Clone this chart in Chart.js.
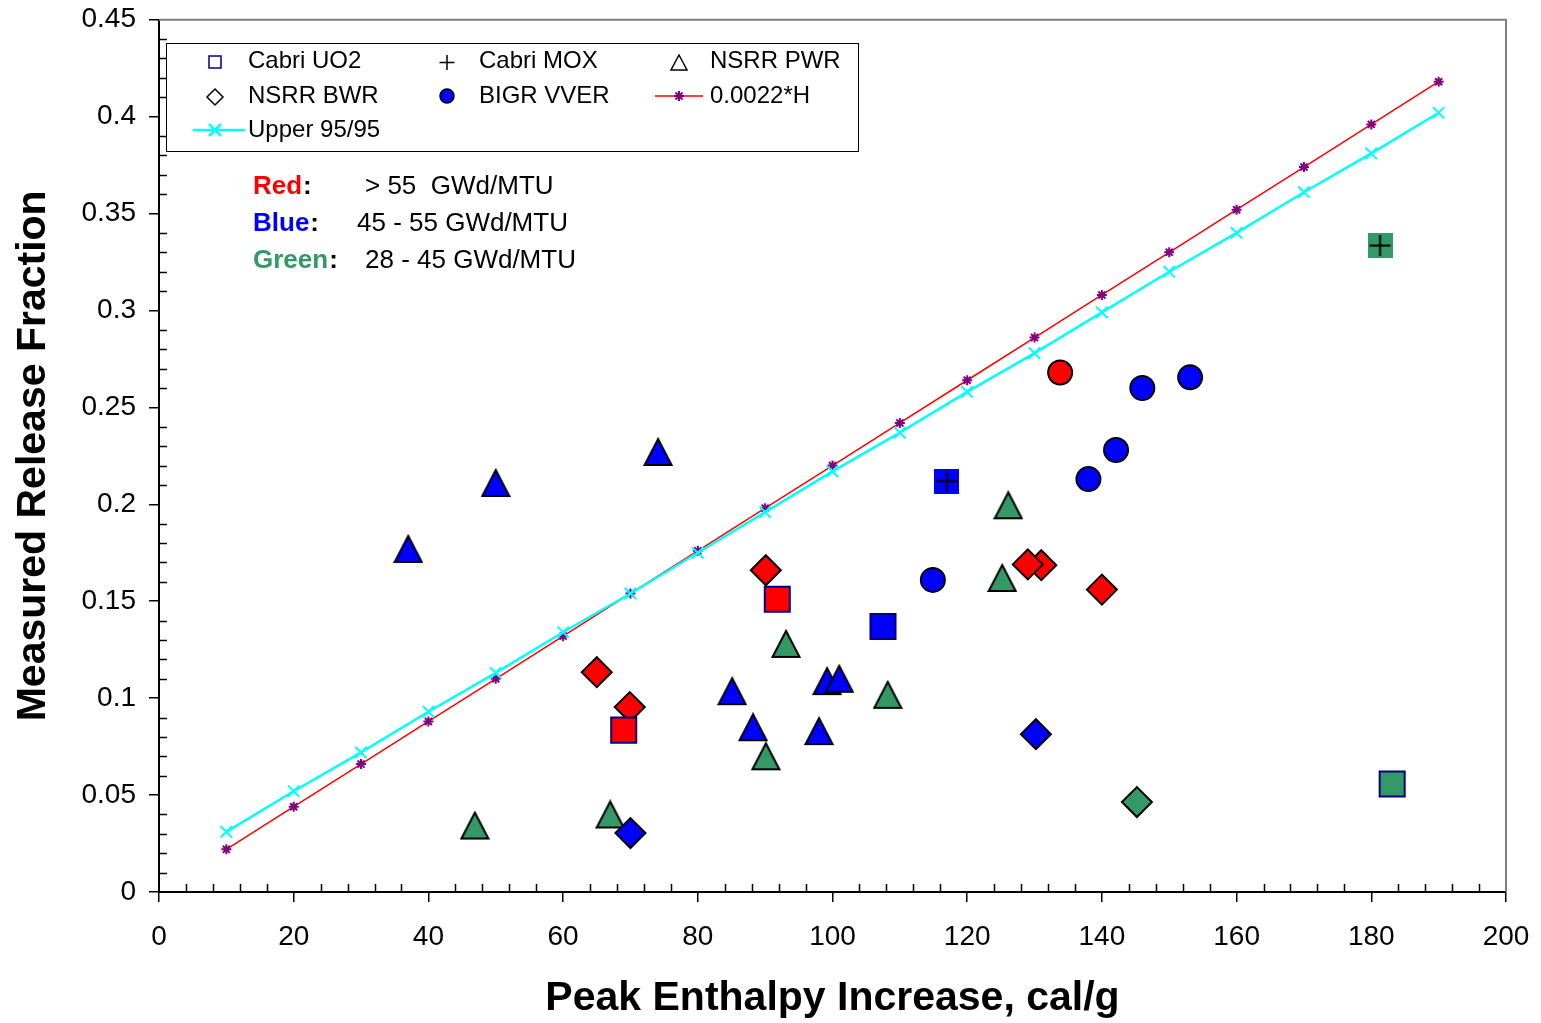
<!DOCTYPE html>
<html>
<head>
<meta charset="utf-8">
<title>Release fraction vs peak enthalpy</title>
<script src="https://cdn.jsdelivr.net/npm/chart.js@4/dist/chart.umd.min.js"></script>
<style>
    html, body { margin: 0; padding: 0; background: #fff; }
    #wrap { width: 1541px; height: 1023px; position: relative; }
</style>
</head>
<body>
<div id="wrap"><canvas id="releaseChart"></canvas></div>
<script>
// ---- data ----
const xTickLabels = ['0', '20', '40', '60', '80', '100', '120', '140', '160', '180', '200'];
const yTickLabels = ['0', '0.05', '0.1', '0.15', '0.2', '0.25', '0.3', '0.35', '0.4', '0.45'];

// burnup group colours
const groupColors = { red: '#FF0000', blue: '#0000FF', green: '#339966' };

const cabriUo2X = [69, 91.8, 107.5, 183.1];
const cabriUo2Y = [0.0835, 0.151, 0.137, 0.0557];
const cabriUo2Group = ['red', 'red', 'blue', 'green'];

const cabriMoxX = [117, 181.3];
const cabriMoxY = [0.212, 0.3335];
const cabriMoxGroup = ['blue', 'green'];

const nsrrPwrX = [37, 50, 74.1, 85.1, 99.2, 101, 88.2, 98, 93.1, 108.2, 90.1, 125.2, 126.1, 46.9, 67];
const nsrrPwrY = [0.177, 0.211, 0.227, 0.1036, 0.1088, 0.110, 0.085, 0.083, 0.128, 0.1017, 0.070, 0.162, 0.1995, 0.0343, 0.040];
const nsrrPwrGroup = ['blue', 'blue', 'blue', 'blue', 'blue', 'blue', 'blue', 'blue',
    'green', 'green', 'green', 'green', 'green', 'green', 'green'];

const nsrrBwrX = [65, 69.9, 90.1, 131, 129, 140, 70, 130.2, 145.2];
const nsrrBwrY = [0.1134, 0.0954, 0.166, 0.1686, 0.169, 0.156, 0.0304, 0.0814, 0.0464];
const nsrrBwrGroup = ['red', 'red', 'red', 'red', 'red', 'red', 'blue', 'blue', 'green'];

const bigrVverX = [133.8, 146, 153.1, 142.1, 138, 114.9];
const bigrVverY = [0.268, 0.26, 0.2655, 0.228, 0.213, 0.161];
const bigrVverGroup = ['red', 'blue', 'blue', 'blue', 'blue', 'blue'];

const lineH = [10, 20, 30, 40, 50, 60, 70, 80, 90, 100, 110, 120, 130, 140, 150, 160, 170, 180, 190];
const fitY = [0.022, 0.044, 0.066, 0.088, 0.110, 0.132, 0.154, 0.176, 0.198, 0.220,
    0.242, 0.264, 0.286, 0.308, 0.330, 0.352, 0.374, 0.396, 0.418];
const upperY = [0.031, 0.052, 0.072, 0.093, 0.113, 0.134, 0.154, 0.175, 0.196, 0.217,
    0.237, 0.258, 0.278, 0.299, 0.320, 0.340, 0.361, 0.381, 0.402];

const FONT = "'Liberation Sans', Arial, sans-serif";

function toPoints(xs, ys) {
    return xs.map((x, i) => ({ x: x, y: ys[i] }));
}

// triangle marker centred on its bounding box, like the spreadsheet one
function triangleMarker(fill) {
    const c = document.createElement('canvas');
    c.width = 30; c.height = 30;
    const g = c.getContext('2d');
    g.beginPath();
    g.moveTo(15, 2);
    g.lineTo(28.5, 28);
    g.lineTo(1.5, 28);
    g.closePath();
    g.fillStyle = fill;
    g.fill();
    g.lineWidth = 2;
    g.strokeStyle = '#000';
    g.stroke();
    return c;
}

// filled square with a black plus on it
function moxMarker(fill) {
    const c = document.createElement('canvas');
    c.width = 25; c.height = 25;
    const g = c.getContext('2d');
    g.fillStyle = fill;
    g.fillRect(0, 0, 25, 25);
    g.strokeStyle = '#000';
    g.lineWidth = 2;
    g.beginPath();
    g.moveTo(12.5, 2); g.lineTo(12.5, 23);
    g.moveTo(2, 12.5); g.lineTo(23, 12.5);
    g.stroke();
    return c;
}

// minor ticks, plot frame, legend box and burnup note
const decorPlugin = {
    id: 'decor',
    afterDraw(chart) {
        const ctx = chart.ctx;
        const xs = chart.scales.x;
        const ys = chart.scales.y;
        const area = chart.chartArea;
        ctx.save();

        // frame on top and right
        ctx.strokeStyle = '#808080';
        ctx.lineWidth = 2;
        ctx.beginPath();
        ctx.moveTo(area.left, area.top);
        ctx.lineTo(area.right, area.top);
        ctx.lineTo(area.right, area.bottom);
        ctx.stroke();

        // minor ticks pointing inwards
        ctx.strokeStyle = '#000';
        ctx.lineWidth = 1.5;
        ctx.beginPath();
        for (let v = 4; v < 200; v += 4) {
            if (v % 20 === 0) continue;
            const px = Math.round(xs.getPixelForValue(v)) + 0.5;
            ctx.moveTo(px, area.bottom);
            ctx.lineTo(px, area.bottom - 8);
        }
        for (let k = 1; k < 45; k++) {
            if (k % 5 === 0) continue;
            const py = Math.round(ys.getPixelForValue(k / 100)) + 0.5;
            ctx.moveTo(area.left, py);
            ctx.lineTo(area.left + 8, py);
        }
        ctx.stroke();

        // legend box
        ctx.fillStyle = '#fff';
        ctx.fillRect(166, 43, 692, 108);
        ctx.strokeStyle = '#000';
        ctx.lineWidth = 1;
        ctx.strokeRect(166.5, 43.5, 692, 108);

        ctx.lineWidth = 1.5;
        // Cabri UO2: hollow square
        ctx.strokeStyle = '#000080';
        ctx.strokeRect(209, 56, 12, 12);
        // Cabri MOX: plus
        ctx.strokeStyle = '#000';
        ctx.beginPath();
        ctx.moveTo(447, 55); ctx.lineTo(447, 70);
        ctx.moveTo(439.5, 62.5); ctx.lineTo(454.5, 62.5);
        ctx.stroke();
        // NSRR PWR: hollow triangle
        ctx.beginPath();
        ctx.moveTo(679, 55); ctx.lineTo(687, 70); ctx.lineTo(671, 70); ctx.closePath();
        ctx.stroke();
        // NSRR BWR: hollow diamond
        ctx.beginPath();
        ctx.moveTo(215, 89); ctx.lineTo(223, 97); ctx.lineTo(215, 105); ctx.lineTo(207, 97); ctx.closePath();
        ctx.stroke();
        // BIGR VVER: blue disc
        ctx.beginPath();
        ctx.arc(447, 96, 7, 0, Math.PI * 2);
        ctx.fillStyle = '#0000FF';
        ctx.fill();
        ctx.strokeStyle = '#000';
        ctx.stroke();
        // 0.0022*H line with star
        ctx.strokeStyle = '#FF0000';
        ctx.lineWidth = 1.5;
        ctx.beginPath();
        ctx.moveTo(655, 96); ctx.lineTo(703, 96);
        ctx.stroke();
        ctx.strokeStyle = '#800080';
        ctx.lineWidth = 2;
        ctx.beginPath();
        for (let a = 0; a < 4; a++) {
            const ang = a * Math.PI / 4;
            ctx.moveTo(679 - 5 * Math.cos(ang), 96 - 5 * Math.sin(ang));
            ctx.lineTo(679 + 5 * Math.cos(ang), 96 + 5 * Math.sin(ang));
        }
        ctx.stroke();
        // Upper 95/95 line with x
        ctx.strokeStyle = '#00FFFF';
        ctx.lineWidth = 2.5;
        ctx.beginPath();
        ctx.moveTo(193, 130); ctx.lineTo(245, 130);
        ctx.moveTo(209, 124); ctx.lineTo(221, 136);
        ctx.moveTo(221, 124); ctx.lineTo(209, 136);
        ctx.stroke();

        ctx.fillStyle = '#000';
        ctx.font = '24px ' + FONT;
        ctx.textBaseline = 'middle';
        ctx.textAlign = 'left';
        const legendItems = [
            ['Cabri UO2', 248, 61], ['Cabri MOX', 479, 61], ['NSRR PWR', 710, 61],
            ['NSRR BWR', 248, 96], ['BIGR VVER', 479, 96], ['0.0022*H', 710, 96],
            ['Upper 95/95', 248, 130]
        ];
        legendItems.forEach(([t, x, y]) => ctx.fillText(t, x, y));

        // burnup note
        const notes = [
            ['Red', groupColors.red, '> 55  GWd/MTU', 365, 187],
            ['Blue', groupColors.blue, '45 - 55 GWd/MTU', 357, 224],
            ['Green', groupColors.green, '28 - 45 GWd/MTU', 365, 261]
        ];
        notes.forEach(([word, col, rest, rx, y]) => {
            ctx.font = 'bold 26px ' + FONT;
            ctx.fillStyle = col;
            ctx.fillText(word, 253, y);
            const w = ctx.measureText(word).width;
            ctx.fillStyle = '#000';
            ctx.fillText(':', 253 + w + 1, y);
            ctx.font = '26px ' + FONT;
            ctx.fillText(rest, rx, y);
        });

        ctx.restore();
    }
};

const markerBorder = 2;

const datasets = [
    {
        label: 'Upper 95/95',
        data: toPoints(lineH, upperY),
        showLine: true,
        borderColor: '#00FFFF',
        borderWidth: 2.5,
        pointStyle: 'crossRot',
        pointRadius: 8,
        pointBorderColor: '#00FFFF',
        pointBorderWidth: 2,
        order: 0
    },
    {
        label: '0.0022*H',
        data: toPoints(lineH, fitY),
        showLine: true,
        borderColor: '#FF0000',
        borderWidth: 1.5,
        pointStyle: 'star',
        pointRadius: 5,
        pointBorderColor: '#800080',
        pointBorderWidth: 2,
        order: 1
    },
    {
        label: 'Cabri MOX',
        data: toPoints(cabriMoxX, cabriMoxY),
        pointStyle: cabriMoxGroup.map(g => moxMarker(groupColors[g])),
        pointRadius: 13,
        order: 2
    },
    {
        label: 'Cabri UO2',
        data: toPoints(cabriUo2X, cabriUo2Y),
        pointStyle: 'rect',
        pointRadius: 17.7,
        backgroundColor: cabriUo2Group.map(g => groupColors[g]),
        borderColor: '#000080',
        borderWidth: markerBorder,
        order: 3
    },
    {
        label: 'NSRR BWR',
        data: toPoints(nsrrBwrX, nsrrBwrY),
        pointStyle: 'rectRot',
        pointRadius: 15,
        backgroundColor: nsrrBwrGroup.map(g => groupColors[g]),
        borderColor: '#000',
        borderWidth: markerBorder,
        order: 4
    },
    {
        label: 'BIGR VVER',
        data: toPoints(bigrVverX, bigrVverY),
        pointStyle: 'circle',
        pointRadius: 12,
        backgroundColor: bigrVverGroup.map(g => groupColors[g]),
        borderColor: '#000',
        borderWidth: markerBorder,
        order: 5
    },
    {
        label: 'NSRR PWR',
        data: toPoints(nsrrPwrX, nsrrPwrY),
        pointStyle: nsrrPwrGroup.map(g => triangleMarker(groupColors[g])),
        pointRadius: 15,
        order: 6
    }
];

const ctx = document.getElementById('releaseChart');
new Chart(ctx, {
    type: 'scatter',
    data: { datasets: datasets },
    options: {
        responsive: true,
        maintainAspectRatio: false,
        animation: false,
        events: [],
        layout: { padding: { left: 0, top: 19, right: 35, bottom: 0 } },
        plugins: {
            legend: { display: false },
            tooltip: { enabled: false }
        },
        scales: {
            x: {
                type: 'linear',
                min: 0,
                max: 200,
                afterFit: scale => {
                    scale.height = 131;
                    scale.paddingLeft = 0;
                    scale.paddingRight = 0;
                },
                ticks: {
                    stepSize: 20,
                    padding: 18,
                    color: '#000',
                    font: { family: FONT, size: 28 },
                    callback: (v, i) => xTickLabels[i] ?? String(v)
                },
                grid: {
                    drawOnChartArea: false,
                    drawTicks: true,
                    tickLength: 10,
                    color: '#000',
                    lineWidth: 1.5
                },
                border: { display: true, color: '#000', width: 2 },
                title: {
                    display: true,
                    text: 'Peak Enthalpy Increase, cal/g',
                    color: '#000',
                    font: { family: FONT, size: 41, weight: 'bold' },
                    padding: { top: 0, bottom: 0 }
                }
            },
            y: {
                type: 'linear',
                min: 0,
                max: 0.45,
                afterFit: scale => {
                    scale.width = 159;
                    scale.paddingTop = 0;
                    scale.paddingBottom = 0;
                },
                ticks: {
                    stepSize: 0.05,
                    padding: 13,
                    color: '#000',
                    font: { family: FONT, size: 28 },
                    callback: (v, i) => yTickLabels[i] ?? String(v)
                },
                grid: {
                    drawOnChartArea: false,
                    drawTicks: true,
                    tickLength: 10,
                    color: '#000',
                    lineWidth: 1.5
                },
                border: { display: true, color: '#000', width: 2 },
                title: {
                    display: true,
                    text: 'Measured Release Fraction',
                    color: '#000',
                    font: { family: FONT, size: 41, weight: 'bold' },
                    padding: { top: 9, bottom: 0 }
                }
            }
        }
    },
    plugins: [decorPlugin]
});
</script>
</body>
</html>
